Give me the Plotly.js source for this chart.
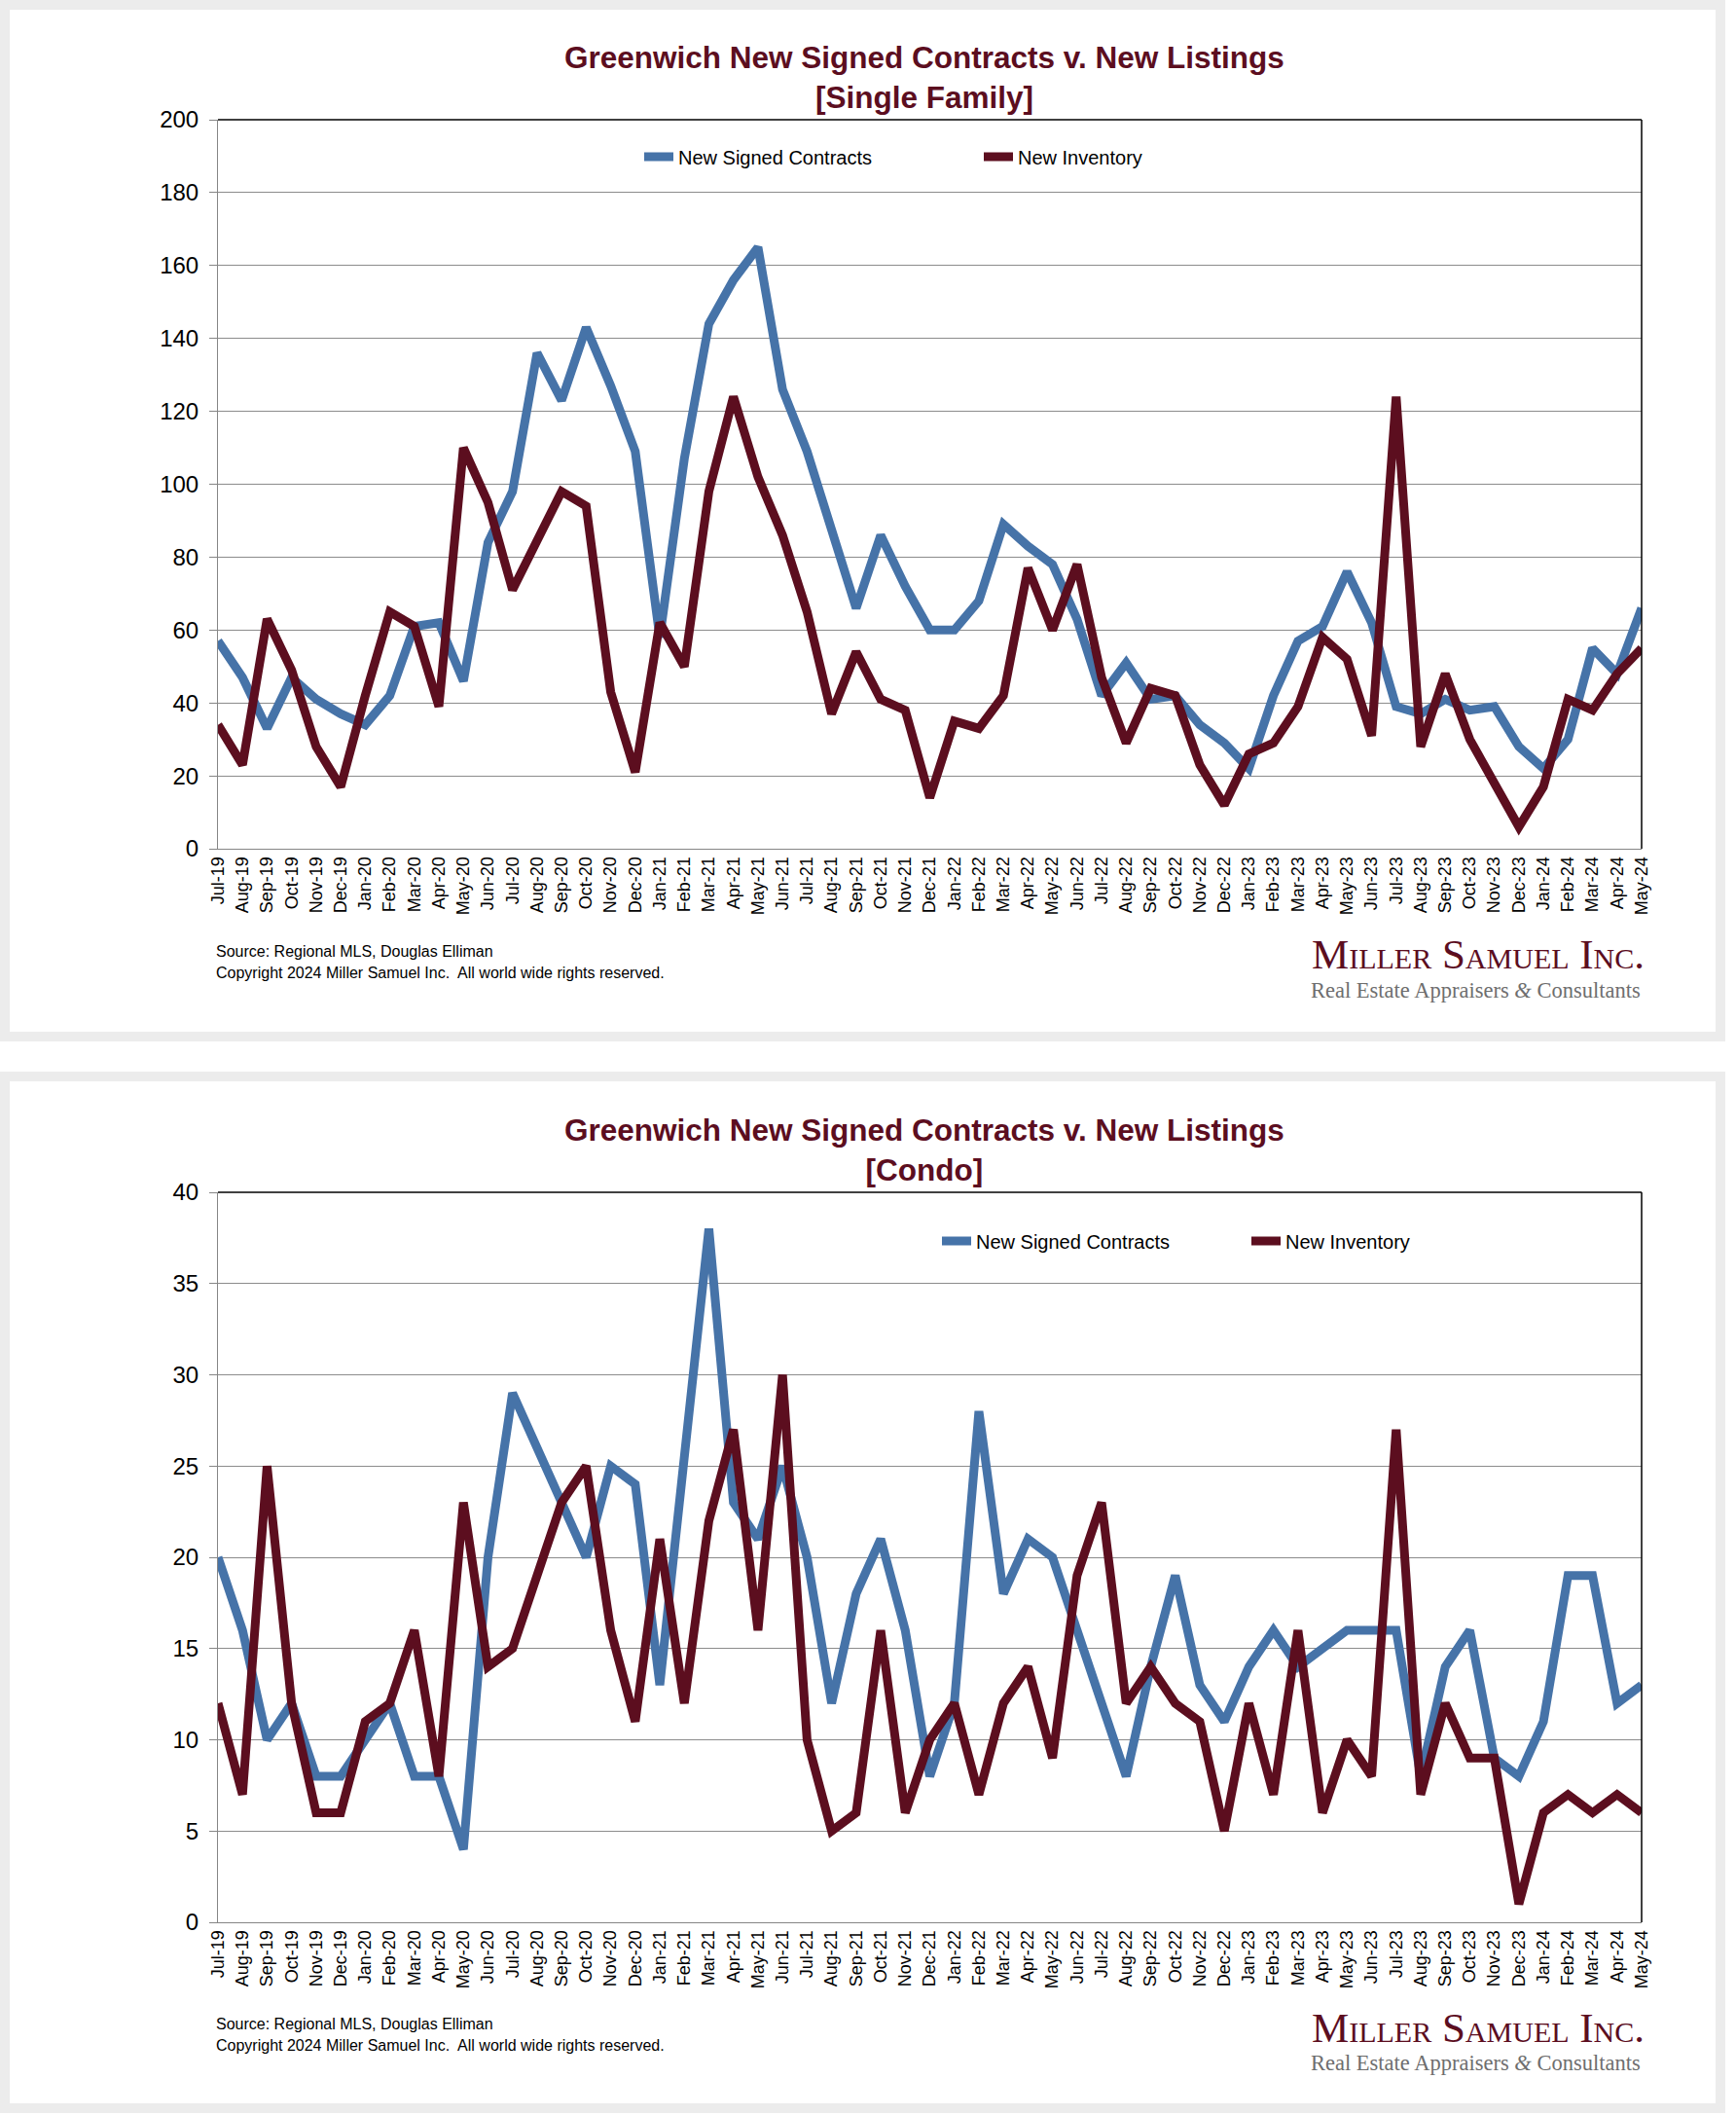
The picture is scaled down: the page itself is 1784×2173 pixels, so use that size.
<!DOCTYPE html>
<html>
<head>
<meta charset="utf-8">
<script src="https://cdn.plot.ly/plotly-3.0.1.min.js"></script>
<style>
  html, body { margin: 0; padding: 0; background: #ffffff; }
  #chart { width: 1784px; height: 2173px; }
</style>
</head>
<body>
<div id="chart"></div>
<script>
// ---------------- DATA ----------------
const months = [
  'Jul-19','Aug-19','Sep-19','Oct-19','Nov-19','Dec-19',
  'Jan-20','Feb-20','Mar-20','Apr-20','May-20','Jun-20','Jul-20','Aug-20','Sep-20','Oct-20','Nov-20','Dec-20',
  'Jan-21','Feb-21','Mar-21','Apr-21','May-21','Jun-21','Jul-21','Aug-21','Sep-21','Oct-21','Nov-21','Dec-21',
  'Jan-22','Feb-22','Mar-22','Apr-22','May-22','Jun-22','Jul-22','Aug-22','Sep-22','Oct-22','Nov-22','Dec-22',
  'Jan-23','Feb-23','Mar-23','Apr-23','May-23','Jun-23','Jul-23','Aug-23','Sep-23','Oct-23','Nov-23','Dec-23',
  'Jan-24','Feb-24','Mar-24','Apr-24','May-24'
];

const sfContracts = [
  57,47,33,47,41,37,
  34,42,61,62,46,84,98,136,123,143,127,109,
  58,107,144,156,165,126,109,88,66,86,72,60,
  60,68,89,83,78,63,42,51,41,42,34,29,
  22,42,57,61,76,62,39,37,41,38,39,28,
  22,30,55,48,66
];
const sfInventory = [
  34,23,63,49,28,17,
  42,65,61,39,110,95,71,85,98,94,43,21,
  62,50,98,124,102,86,65,37,54,41,38,14,
  35,33,42,77,60,78,47,29,44,42,23,12,
  26,29,39,58,52,31,124,28,48,30,18,6,
  17,41,38,48,55
];
const condoContracts = [
  20,16,10,12,8,8,
  10,12,8,8,4,20,29,26,23,20,25,24,
  13,25,38,23,21,25,20,12,18,21,16,8,
  12,28,18,21,20,16,12,8,14,19,13,11,
  14,16,14,15,16,16,16,8,14,16,9,8,
  11,19,19,12,13
];
const condoInventory = [
  12,7,25,12,6,6,
  11,12,16,8,23,14,15,19,23,25,16,11,
  21,12,22,27,16,30,10,5,6,16,6,10,
  12,7,12,14,9,19,23,12,14,12,11,5,
  12,7,16,6,10,8,27,7,12,9,9,1,
  6,7,6,7,6
];

const seriesNames = ['New Signed Contracts', 'New Inventory'];
const titleLine1 = 'Greenwich New Signed Contracts v. New Listings';
const subtitles = ['[Single Family]', '[Condo]'];
const sourceText = 'Source: Regional MLS, Douglas Elliman';
const copyrightText = 'Copyright 2024 Miller Samuel Inc.  All world wide rights reserved.';

// ---------------- STYLE ----------------
const W = 1784, H = 2173;
const fx = x => x / W;
const fy = y => 1 - y / H;
const BLUE = '#4673a8';
const RED = '#5c0e1f';
const GRID = '#8c8c8c';
const SANS = 'Liberation Sans, Arial, Helvetica, sans-serif';
const SERIF = 'Liberation Serif, Times New Roman, serif';
const LW = 9;

const traces = [
  { x: months, y: sfContracts, name: seriesNames[0], type: 'scatter', mode: 'lines',
    line: { color: BLUE, width: LW }, xaxis: 'x', yaxis: 'y', legend: 'legend' },
  { x: months, y: sfInventory, name: seriesNames[1], type: 'scatter', mode: 'lines',
    line: { color: RED, width: LW }, xaxis: 'x', yaxis: 'y', legend: 'legend' },
  { x: months, y: condoContracts, name: seriesNames[0], type: 'scatter', mode: 'lines',
    line: { color: BLUE, width: LW }, xaxis: 'x2', yaxis: 'y2', legend: 'legend2' },
  { x: months, y: condoInventory, name: seriesNames[1], type: 'scatter', mode: 'lines',
    line: { color: RED, width: LW }, xaxis: 'x2', yaxis: 'y2', legend: 'legend2' }
];

function xAxis(anchor) {
  return {
    domain: [fx(224), fx(1687)], anchor: anchor, type: 'category',
    range: [0, months.length - 1], tickmode: 'linear', tick0: 0, dtick: 1,
    tickangle: -90, tickfont: { family: SANS, size: 18, color: '#000' },
    showline: true, linecolor: '#868686', linewidth: 1, ticks: '',
    showgrid: false, zeroline: false, automargin: false, fixedrange: true
  };
}
function yAxis(anchor, top, bottom, max, step) {
  return {
    domain: [fy(bottom), fy(top)], anchor: anchor, range: [0, max], dtick: step, tick0: 0,
    tickfont: { family: SANS, size: 24, color: '#000' },
    showgrid: true, gridcolor: GRID, gridwidth: 1,
    showline: true, linecolor: '#868686', linewidth: 1,
    ticks: 'outside', ticklen: 8, tickcolor: '#868686', ticklabelstandoff: 6,
    zeroline: false, automargin: false, fixedrange: true
  };
}

function panelAnnotations(offset, idx) {
  return [
    { xref: 'paper', yref: 'paper', x: fx(950), y: fy(79 + offset), xanchor: 'center', yanchor: 'middle',
      text: '<b>' + titleLine1 + '<br>' + subtitles[idx] + '</b>', showarrow: false,
      font: { family: SANS, size: 31.5, color: RED } },
    { xref: 'paper', yref: 'paper', x: fx(220), y: fy(977 + offset), xanchor: 'left', yanchor: 'middle',
      text: sourceText, showarrow: false, font: { family: SANS, size: 16, color: '#000' } },
    { xref: 'paper', yref: 'paper', x: fx(220), y: fy(999 + offset), xanchor: 'left', yanchor: 'middle',
      text: copyrightText, showarrow: false, font: { family: SANS, size: 16, color: '#000' } },
    { xref: 'paper', yref: 'paper', x: fx(1519), y: fy(981 + offset), xanchor: 'center', yanchor: 'middle',
      text: 'Miller Samuel Inc.', showarrow: false,
      font: { family: SERIF, size: 43, color: RED, variant: 'small-caps' } },
    { xref: 'paper', yref: 'paper', x: fx(1516), y: fy(1017 + offset), xanchor: 'center', yanchor: 'middle',
      text: 'Real Estate Appraisers <i>&amp;</i> Consultants', showarrow: false,
      font: { family: SERIF, size: 22.5, color: '#6e6e6e' } }
  ];
}

function panelShapes(top, bottom, xr, yr) {
  return [
    { type: 'rect', xref: 'paper', yref: 'paper', layer: 'below',
      x0: fx(5), x1: fx(1768), y0: fy(bottom - 5), y1: fy(top + 5),
      line: { color: '#ececec', width: 10 }, fillcolor: '#ffffff' },
    { type: 'line', xref: xr + ' domain', yref: yr + ' domain', x0: 0, x1: 1, y0: 1, y1: 1,
      line: { color: '#000', width: 1.5 } },
    { type: 'line', xref: xr + ' domain', yref: yr + ' domain', x0: 1, x1: 1, y0: 0, y1: 1,
      line: { color: '#000', width: 1.5 } }
  ];
}

const layout = {
  width: W, height: H, autosize: false,
  margin: { l: 0, r: 0, t: 0, b: 0, pad: 0 },
  paper_bgcolor: '#ffffff', plot_bgcolor: 'rgba(0,0,0,0)',
  showlegend: true,
  xaxis: xAxis('y'),
  yaxis: yAxis('x', 123, 872, 200, 20),
  xaxis2: xAxis('y2'),
  yaxis2: yAxis('x2', 1225, 1975, 40, 5),
  legend: {
    orientation: 'h', x: fx(657), xanchor: 'left', y: fy(161), yanchor: 'middle',
    font: { family: SANS, size: 20, color: '#000' }, bgcolor: 'rgba(0,0,0,0)',
    entrywidth: 304, entrywidthmode: 'pixels', itemwidth: 30, traceorder: 'normal'
  },
  legend2: {
    orientation: 'h', x: fx(963), xanchor: 'left', y: fy(1275), yanchor: 'middle',
    font: { family: SANS, size: 20, color: '#000' }, bgcolor: 'rgba(0,0,0,0)',
    entrywidth: 273, entrywidthmode: 'pixels', itemwidth: 30, traceorder: 'normal'
  },
  annotations: panelAnnotations(0, 0).concat(panelAnnotations(1102, 1)),
  shapes: panelShapes(0, 1070, 'x', 'y').concat(panelShapes(1101, 2171, 'x2', 'y2'))
};

Plotly.newPlot('chart', traces, layout, { staticPlot: true, displayModeBar: false, responsive: false });
</script>
</body>
</html>
